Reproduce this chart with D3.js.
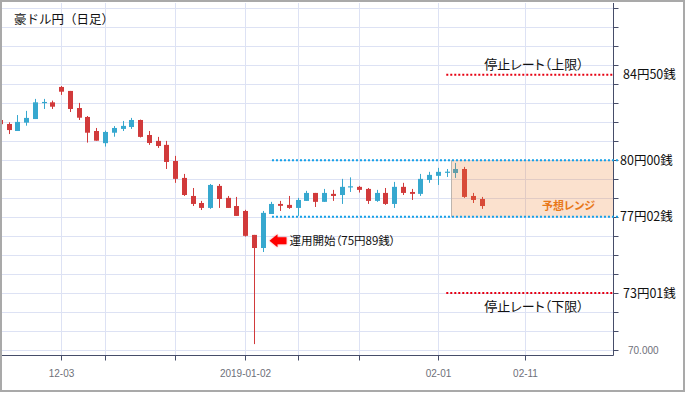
<!DOCTYPE html>
<html><head><meta charset="utf-8">
<script src="https://cdn.jsdelivr.net/npm/d3@7"></script>
<style>
body{margin:0;background:#fff;}
svg text.palt{font-feature-settings:"palt";}
</style>
</head><body>
<svg id="chart" width="687" height="393"></svg>
<script>
// ---- data ----
const dates = ["2018-11-22","11-23","11-26","11-27","11-28","11-29","11-30","12-03","12-04","12-05","12-06","12-07","12-10","12-11","12-12","12-13","12-14","12-17","12-18","12-19","12-20","12-21","12-24","12-25","12-26","12-27","12-28","12-31","2019-01-02","01-03","01-04","01-07","01-08","01-09","01-10","01-11","01-14","01-15","01-16","01-17","01-18","01-21","01-22","01-23","01-24","01-25","01-28","01-29","01-30","01-31","02-01","02-04","02-05","02-06","02-07","02-08"];
const open  = [82.12,81.91,81.54,81.98,82.17,83.04,83.05,83.86,83.65,82.75,82.28,81.54,80.90,81.45,81.65,81.75,82.12,81.33,81.02,80.81,79.96,79.07,78.12,77.75,77.49,78.65,78.02,77.59,77.33,76.07,75.38,77.17,77.70,77.65,77.49,77.86,78.28,77.81,78.23,78.17,78.58,78.60,78.49,77.86,78.28,77.70,78.60,78.33,78.23,78.96,79.18,79.37,79.33,79.54,78.12,77.96];
const high  = [82.15,82.00,82.38,82.60,83.23,83.23,83.14,83.91,83.65,83.02,82.33,81.70,81.56,81.80,82.07,82.23,82.14,81.54,81.23,81.02,80.23,79.28,78.54,77.86,78.75,78.75,78.12,78.07,77.39,76.07,77.33,77.81,77.86,78.12,78.02,78.39,78.28,78.49,78.44,79.02,79.10,78.65,78.54,78.44,78.54,78.86,78.81,78.49,79.28,79.39,79.60,79.54,79.86,79.65,78.28,78.07];
const low   = [81.88,81.38,81.54,81.82,82.17,82.70,82.70,83.44,82.54,82.12,80.93,81.03,80.72,81.24,81.54,81.65,81.20,80.81,80.65,79.54,78.81,78.12,77.59,77.38,77.44,77.49,77.49,77.07,75.98,70.32,75.17,77.17,77.33,77.44,77.07,77.86,77.54,77.81,77.86,77.70,78.33,78.30,77.70,77.81,77.65,77.49,78.17,77.91,78.12,78.81,78.70,79.12,79.07,78.02,77.75,77.44];
const close = [81.90,81.59,82.02,82.23,83.05,83.07,82.82,83.61,82.70,82.24,81.45,81.03,81.49,81.70,81.81,82.12,81.23,80.91,80.75,79.91,79.02,78.17,77.70,77.49,78.70,77.96,77.49,77.07,76.02,75.38,77.23,77.70,77.60,77.49,77.91,78.28,77.81,78.28,78.12,78.60,78.63,78.44,77.86,78.28,77.70,78.60,78.28,78.23,79.02,79.23,79.39,79.40,79.54,78.07,77.91,77.59];

const xTickIndex  = [7, 12, 20, 28, 34, 41, 50, 60];
const xTickLabels = ["12-03", "", "", "2019-01-02", "", "", "02-01", "02-11"];
const yTicks = [70,71,72,73,74,75,76,77,78,79,80,81,82,83,84,85,86,87,88];
const yTickLabels = ["70.000"];

const stopLevels = [84.50, 73.01];
const stopLabels = ["84円50銭", "73円01銭"];
const stopTitles = ["停止レート（上限）", "停止レート（下限）"];
const rangeLevels = [80.00, 77.02];
const rangeLabels = ["80円00銭", "77円02銭"];
const rangeStartIndex = 51.5;
const rangeLineStartIndex = 31;
const stopLineStartIndex = 50.9;
const startIndex = 30;
const startRate = 75.89;
const title = "豪ドル円（日足）";
const startText = "運用開始（75円89銭）";
const rangeText = "予想レンジ";

// ---- layout ----
const svg = d3.select("#chart");
const L = 2, R = 613.5, T = 3, B = 355.5;
const x = d3.scaleLinear().domain([0, 70]).range([0.4, 0.4 + 8.76 * 70]);
const y = d3.scaleLinear().domain([69.72, 88.28]).range([B, T]);
const px = v => Math.floor(v) + 0.5;
const crisp = v => Math.round(v - 0.5) + 0.5;
const UP = "#37a8cf", DOWN = "#d13a3b";
const gridColor = "#dde2f4", axisColor = "#464d69";
const jp = "'Noto Sans CJK JP', sans-serif";

svg.append("rect").attr("width", 687).attr("height", 393).attr("fill", "#fff");

// grid
const g = svg.append("g");
g.selectAll(".hg").data(yTicks).enter().append("line")
  .attr("x1", L).attr("x2", R).attr("y1", d => crisp(y(d))).attr("y2", d => crisp(y(d)))
  .attr("stroke", gridColor).attr("stroke-width", 1);
g.selectAll(".vg").data(xTickIndex).enter().append("line")
  .attr("x1", d => px(x(d))).attr("x2", d => px(x(d))).attr("y1", T).attr("y2", B)
  .attr("stroke", gridColor).attr("stroke-width", 1);

// candles
svg.append("clipPath").attr("id", "clip").append("rect")
  .attr("x", L).attr("y", T).attr("width", R - L).attr("height", B - T);
const cg = svg.append("g").attr("clip-path", "url(#clip)");
const idx = d3.range(open.length);
cg.selectAll(".wick").data(idx).enter().append("line")
  .attr("x1", i => px(x(i))).attr("x2", i => px(x(i)))
  .attr("y1", i => y(high[i])).attr("y2", i => y(low[i]))
  .attr("stroke", i => close[i] >= open[i] ? UP : DOWN).attr("stroke-width", 1);
cg.selectAll(".body").data(idx).enter().append("rect")
  .attr("x", i => px(x(i)) - 2.5).attr("width", 5)
  .attr("y", i => y(Math.max(open[i], close[i])))
  .attr("height", i => Math.max(1.2, Math.abs(y(open[i]) - y(close[i]))))
  .attr("fill", i => close[i] >= open[i] ? UP : DOWN);

// range box
const bx = x(rangeStartIndex);
svg.append("rect").attr("x", bx).attr("y", y(rangeLevels[0]))
  .attr("width", R - bx).attr("height", y(rangeLevels[1]) - y(rangeLevels[0]))
  .attr("fill", "rgba(238,128,50,0.24)");
svg.append("line").attr("x1", px(bx)).attr("x2", px(bx))
  .attr("y1", y(rangeLevels[0])).attr("y2", y(rangeLevels[1]))
  .attr("stroke", "#bdb5ae").attr("stroke-width", 1);

// axes
svg.append("line").attr("x1", R).attr("x2", R).attr("y1", T).attr("y2", B)
  .attr("stroke", axisColor).attr("stroke-width", 1);
svg.append("line").attr("x1", 0).attr("x2", R).attr("y1", B).attr("y2", B)
  .attr("stroke", axisColor).attr("stroke-width", 1);
svg.selectAll(".yt").data(yTicks).enter().append("line")
  .attr("x1", R).attr("x2", R + 5).attr("y1", d => crisp(y(d))).attr("y2", d => crisp(y(d)))
  .attr("stroke", axisColor).attr("stroke-width", 1);
svg.selectAll(".xt").data(xTickIndex).enter().append("line")
  .attr("x1", d => px(x(d))).attr("x2", d => px(x(d))).attr("y1", B).attr("y2", B + 5)
  .attr("stroke", axisColor).attr("stroke-width", 1);
svg.selectAll(".xl").data(xTickIndex).enter().append("text")
  .attr("x", d => px(x(d))).attr("y", 376.5).attr("text-anchor", "middle")
  .attr("font-family", "'Liberation Sans', Arial, sans-serif").attr("font-size", 10)
  .attr("fill", "#6e7079").text((d, i) => xTickLabels[i]);
svg.append("text").attr("x", 628).attr("y", y(yTicks[0]) + 3.5)
  .attr("font-family", "'Liberation Sans', Arial, sans-serif").attr("font-size", 10)
  .attr("fill", "#6e7079").text(yTickLabels[0]);

// dotted level lines
svg.selectAll(".rl").data(rangeLevels).enter().append("line")
  .attr("x1", x(rangeLineStartIndex)).attr("x2", 619)
  .attr("y1", d => y(d)).attr("y2", d => y(d))
  .attr("stroke", "#12a0e8").attr("stroke-width", 2).attr("stroke-dasharray", "2,2");
svg.selectAll(".sl").data(stopLevels).enter().append("line")
  .attr("x1", x(stopLineStartIndex)).attr("x2", R)
  .attr("y1", d => y(d)).attr("y2", d => y(d))
  .attr("stroke", "#e60012").attr("stroke-width", 2).attr("stroke-dasharray", "2,2");

// level labels
svg.selectAll(".rlab").data(rangeLevels).enter().append("text")
  .attr("x", 620).attr("y", d => y(d)).attr("dy", "0.36em")
  .attr("font-family", jp).attr("font-size", 12.5).attr("fill", "#111")
  .text((d, i) => rangeLabels[i]);
svg.selectAll(".slab").data(stopLevels).enter().append("text")
  .attr("x", 623).attr("y", d => y(d)).attr("dy", "0.36em")
  .attr("font-family", jp).attr("font-size", 12.5).attr("fill", "#111")
  .text((d, i) => stopLabels[i]);
svg.selectAll(".stitle").data(stopLevels).enter().append("text")
  .attr("class", "palt")
  .attr("x", 534).attr("y", (d, i) => y(d) + (i === 0 ? -10 : 13)).attr("dy", "0.36em")
  .attr("text-anchor", "middle")
  .attr("font-family", jp).attr("font-size", 13).attr("fill", "#111")
  .text((d, i) => stopTitles[i]);

// range label
svg.append("text").attr("class", "palt")
  .attr("x", 595).attr("y", 206).attr("dy", "0.36em").attr("text-anchor", "end")
  .attr("font-family", jp).attr("font-size", 11).attr("font-weight", "bold")
  .attr("fill", "#e8781a").text(rangeText);

// start arrow + text
const ax = px(x(startIndex)) + 6, ay = y(startRate) + 2.5;
svg.append("path")
  .attr("d", `M${ax},${ay} L${ax + 8},${ay - 6.5} L${ax + 8},${ay - 3.5} L${ax + 17},${ay - 3.5} L${ax + 17},${ay + 3.5} L${ax + 8},${ay + 3.5} L${ax + 8},${ay + 6.5} Z`)
  .attr("fill", "#ff0000").style("filter", "drop-shadow(0px 0px 1px rgba(255,80,80,0.6))");
svg.append("text").attr("class", "palt").attr("x", ax + 20).attr("y", ay).attr("dy", "0.36em")
  .attr("font-family", jp).attr("font-size", 11.5).attr("fill", "#111").text(startText);

// title
svg.append("text").attr("x", 14).attr("y", 19).attr("dy", "0.36em")
  .attr("font-family", jp).attr("font-size", 12.5).attr("fill", "#111").text(title);

// frame
svg.append("rect").attr("x", 1).attr("y", 1).attr("width", 683).attr("height", 390)
  .attr("fill", "none").attr("stroke", "#a9a9a9").attr("stroke-width", 2);
</script>
</body></html>
